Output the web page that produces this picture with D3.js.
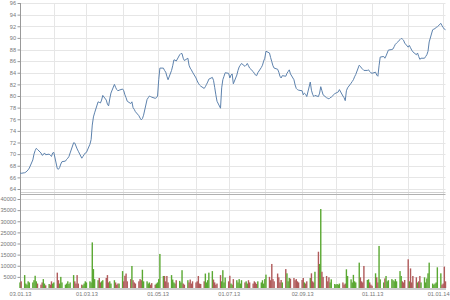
<!DOCTYPE html>
<html>
<head>
<meta charset="utf-8">
<script src="https://cdn.jsdelivr.net/npm/d3@7"></script>
<style>
body { margin: 0; background: #fff; }
text { font-family: "Liberation Sans", sans-serif; }
</style>
</head>
<body>
<div id="chart"></div>
<script>
// trading days: every weekday from startDate to endDate
var startDate = "2013-01-03";
var endDate = "2014-01-03";

// daily closes, one per trading day
var closes = [
    66.75, 66.7,
    66.8, 66.9, 67.1, 67.3, 67.6,
    69.0, 70.0, 70.6, 71.0, 70.8,
    70.2, 69.8, 69.9, 70.2, 69.9,
    70.0, 69.8, 69.6, 70.2, 70.3,
    67.5, 67.4, 67.7, 68.3, 68.7,
    68.8, 69.1, 69.3, 69.6, 70.2,
    71.96, 71.9, 71.4, 70.9, 70.5,
    69.3, 69.6, 69.9, 70.2, 70.3,
    71.7, 72.5, 75.0, 76.4, 77.1,
    79.0, 78.9, 78.8, 79.3, 80.1,
    79.3, 78.6, 78.3, 79.5, 80.5,
    82.0, 81.5, 81.1, 80.9, 81.0,
    81.2, 80.9, 80.2, 79.7, 79.1,
    78.7, 79.0, 78.0, 77.7, 77.3,
    76.6, 76.2, 75.9, 76.1, 76.7,
    79.4, 79.7, 80.0, 79.9, 79.8,
    79.6, 79.7, 80.0, 82.8, 84.8,
    84.8, 84.4, 84.1, 83.4, 82.8,
    84.4, 85.2, 86.2, 86.2, 86.0,
    87.1, 87.3, 87.3, 86.5, 86.1,
    86.5, 85.3, 84.8, 84.5, 84.1,
    83.1, 82.6, 82.2, 81.9, 81.7,
    81.3, 81.6, 82.0, 82.4, 82.9,
    83.2, 82.7, 81.5, 80.2, 79.1,
    77.9, 81.4, 82.8, 83.4, 84.0,
    83.9, 83.1, 83.6, 83.8, 82.1,
    83.6, 84.4, 85.0, 85.3, 85.6,
    85.1, 85.3, 85.6, 85.2, 84.8,
    84.2, 83.9, 83.6, 83.5, 84.0,
    84.9, 85.3, 86.0, 86.5, 87.7,
    87.4, 86.6, 85.9, 85.2, 84.8,
    84.6, 84.1, 83.4, 83.1, 83.5,
    83.4, 83.9, 84.2, 84.5, 83.8,
    82.8, 81.9, 81.3, 81.1, 81.0,
    80.9, 80.2, 80.5, 80.3, 79.9,
    82.4, 81.0, 80.3, 79.9, 80.1,
    79.9, 80.5, 81.6, 80.9, 80.2,
    79.7, 79.6, 79.5, 79.7, 79.8,
    80.4, 80.5, 80.6, 80.7, 81.1,
    80.0, 79.7, 79.2, 80.9, 81.4,
    82.2, 82.5, 82.8, 83.3, 83.7,
    85.3, 85.1, 84.8, 84.6, 84.4,
    84.4, 84.5, 84.2, 84.0, 83.9,
    84.1, 83.6, 83.4, 85.2, 86.7,
    86.8, 86.5, 86.9, 87.4, 87.9,
    88.0, 88.1, 88.5, 88.9, 89.1,
    89.7, 89.9, 89.8, 89.6, 89.1,
    88.4, 88.7, 88.3, 87.9, 87.6,
    87.1, 87.4, 86.8, 86.3, 86.5,
    86.5, 86.8, 87.1, 87.7, 89.3,
    91.4, 91.5, 91.6, 91.8, 91.9,
    92.5, 92.1, 91.8, 91.5, 91.4
];

// daily volumes, one per trading day
var volumes = [
    2500, 3000,
    5800, 2000, 1500, 3000, 2500,
    2500, 3500, 5500, 3000, 2000,
    1500, 2500, 4000, 2000, 1200,
    1800, 1500, 3000, 2000, 2500,
    6900, 3500, 2000, 5000, 2500,
    1500, 2000, 3000, 1800, 2500,
    5800, 3000, 2000, 5800, 2000,
    1500, 1200, 2000, 3000, 2500,
    3000, 2500, 20500, 8500, 4000,
    3500, 4500, 2500, 3000, 3500,
    4500, 5800, 2500, 3000, 2000,
    3500, 2500, 1500, 2000, 2000,
    7600, 3000, 5500, 6500, 3000,
    4000, 9900, 3500, 2500, 2000,
    3000, 4000, 3500, 8200, 3000,
    3000, 2000, 2500, 1500, 2200,
    1500, 2000, 2500, 4000, 15300,
    5400, 5400, 3000, 5400, 2500,
    5800, 3800, 2500, 2000, 3500,
    3200, 2500, 8000, 2000, 1500,
    3500, 2500, 3800, 2000, 3000,
    2500, 3000, 5400, 2000, 1800,
    3000, 6500, 2500, 3500, 6900,
    7600, 3800, 2500, 1500, 2000,
    5800, 3000, 8000, 2500, 4700,
    3000, 5500, 2000, 1500, 4000,
    3500, 2500, 4000, 2000, 3500,
    2500, 3000, 2000, 3500, 2500,
    2000, 3000, 2500, 1800, 3000,
    2500, 3500, 2000, 4000, 6000,
    5000, 3500, 10800, 4000, 3000,
    6500, 4800, 2500, 3600, 2500,
    8500, 6600, 3000, 4500, 4200,
    4500, 3500, 4000, 3000, 2500,
    3600, 4500, 2500, 2000, 3000,
    4500, 6600, 3000, 2500, 7300,
    16300, 10800, 35500, 7300, 5000,
    5400, 3000, 4800, 2500, 3900,
    1800, 1500, 1800, 1500, 2000,
    2500, 1500, 2000, 8400, 5400,
    3900, 2500, 5900, 3000, 2500,
    11400, 4800, 3000, 2500, 9900,
    3600, 3900, 2500, 1500, 1000,
    6600, 4800, 2500, 18900, 3900,
    2500, 4300, 5400, 3000, 3500,
    4000, 3500, 3000, 4000, 3000,
    7600, 5400, 3000, 2500, 3600,
    12900, 3000, 8800, 2500, 5400,
    4800, 2500, 3000, 5400, 2500,
    4800, 2500, 4300, 6600, 11400,
    2000, 1500, 2000, 2500, 9300,
    6600, 1500, 2000, 9600, 3000
];

var priceTicks = [64, 66, 68, 70, 72, 74, 76, 78, 80, 82, 84, 86, 88, 90, 92, 94, 96];
var volumeTicks = [5000, 10000, 15000, 20000, 25000, 30000, 35000, 40000];

var width = 450, height = 300;
var left = 20, right = 445.5;

var svg = d3.select("#chart").append("svg")
    .attr("width", width)
    .attr("height", height);

var parse = d3.utcParse("%Y-%m-%d");
var days = d3.utcDay.range(parse(startDate), d3.utcDay.offset(parse(endDate), 1))
    .filter(d => d.getUTCDay() != 0 && d.getUTCDay() != 6);

var data = days.map((d, i) => ({
    date: d,
    close: closes[i],
    volume: volumes[i],
    up: i == 0 ? true : closes[i] >= closes[i - 1]
}));

// first trading day of each month -> grid, every other one labelled
var monthStarts = d3.groups(days, d => d.getUTCFullYear() + "-" + d.getUTCMonth()).map(g => g[1][0]);
var fmt = d3.utcFormat("%d.%m.%y");

var x = d3.scaleUtc()
    .domain([days[0], days[days.length - 1]])
    .range([left, right]);

var yP = d3.scaleLinear().domain([64, 96]).range([189, 3]);
var yV = d3.scaleLinear().domain([0, 40000]).range([288, 199]);

var gridColor = "#e6e6e6";

// vertical grid
svg.append("g").selectAll("line")
    .data(monthStarts.slice(1))
    .enter().append("line")
    .attr("x1", d => Math.round(x(d)) + 0.5)
    .attr("x2", d => Math.round(x(d)) + 0.5)
    .attr("y1", 3)
    .attr("y2", 288)
    .attr("stroke", gridColor);

// horizontal grid, price panel
svg.append("g").selectAll("line")
    .data(priceTicks)
    .enter().append("line")
    .attr("x1", left)
    .attr("x2", right)
    .attr("y1", d => Math.round(yP(d)) + 0.5)
    .attr("y2", d => Math.round(yP(d)) + 0.5)
    .attr("stroke", gridColor);

// horizontal grid, volume panel
svg.append("g").selectAll("line")
    .data(volumeTicks)
    .enter().append("line")
    .attr("x1", left)
    .attr("x2", right)
    .attr("y1", d => Math.round(yV(d)) + 0.5)
    .attr("y2", d => Math.round(yV(d)) + 0.5)
    .attr("stroke", gridColor);

// panel separator
svg.append("line")
    .attr("x1", left).attr("x2", right)
    .attr("y1", 192.5).attr("y2", 192.5)
    .attr("stroke", "#d0d0d0");
svg.append("line")
    .attr("x1", left).attr("x2", right)
    .attr("y1", 194.5).attr("y2", 194.5)
    .attr("stroke", "#b0b0b0");

// price axis
var axP = svg.append("g")
    .attr("transform", "translate(" + (left + 0.5) + ",0)")
    .call(d3.axisLeft(yP).tickValues(priceTicks).tickSize(3).tickPadding(1.5));

// volume axis
var axV = svg.append("g")
    .attr("transform", "translate(" + (left + 0.5) + ",0)")
    .call(d3.axisLeft(yV).tickValues(volumeTicks).tickFormat(d3.format("d")).tickSize(3).tickPadding(1.5));

// time axis
var labelDates = monthStarts.filter((d, i) => i % 2 == 0);
var axX = svg.append("g")
    .attr("transform", "translate(0,288.5)")
    .call(d3.axisBottom(x)
        .tickValues(labelDates)
        .tickFormat(fmt)
        .tickSize(0)
        .tickPadding(4));

[axP, axV, axX].forEach(function(g) {
    g.selectAll("text").attr("font-size", 5.6).attr("fill", "#777").attr("font-family", "Liberation Sans, sans-serif");
    g.selectAll("line").attr("stroke", "#999");
    g.select(".domain").attr("stroke", "#999");
});
axP.select(".domain").attr("d", "M-0,3V194");
axV.select(".domain").attr("d", "M-0,194V288");

// keep the last date label inside the picture
axX.selectAll(".tick").filter(d => x(d) > width - 12)
    .select("text")
    .attr("text-anchor", "end")
    .attr("dx", d => (width - 1 - x(d)) + "px");

// volume bars
svg.append("g").selectAll("rect")
    .data(data)
    .enter().append("rect")
    .attr("x", d => x(d.date) - 0.7)
    .attr("width", 1.4)
    .attr("y", d => yV(d.volume))
    .attr("height", d => yV(0) - yV(d.volume))
    .attr("fill", d => d.up ? "#5aa832" : "#b05a5a");

// price line
svg.append("path")
    .datum(data)
    .attr("fill", "none")
    .attr("stroke", "#5d82ad")
    .attr("stroke-width", 1)
    .attr("d", d3.line().x(d => x(d.date)).y(d => yP(d.close)));
</script>
</body>
</html>
